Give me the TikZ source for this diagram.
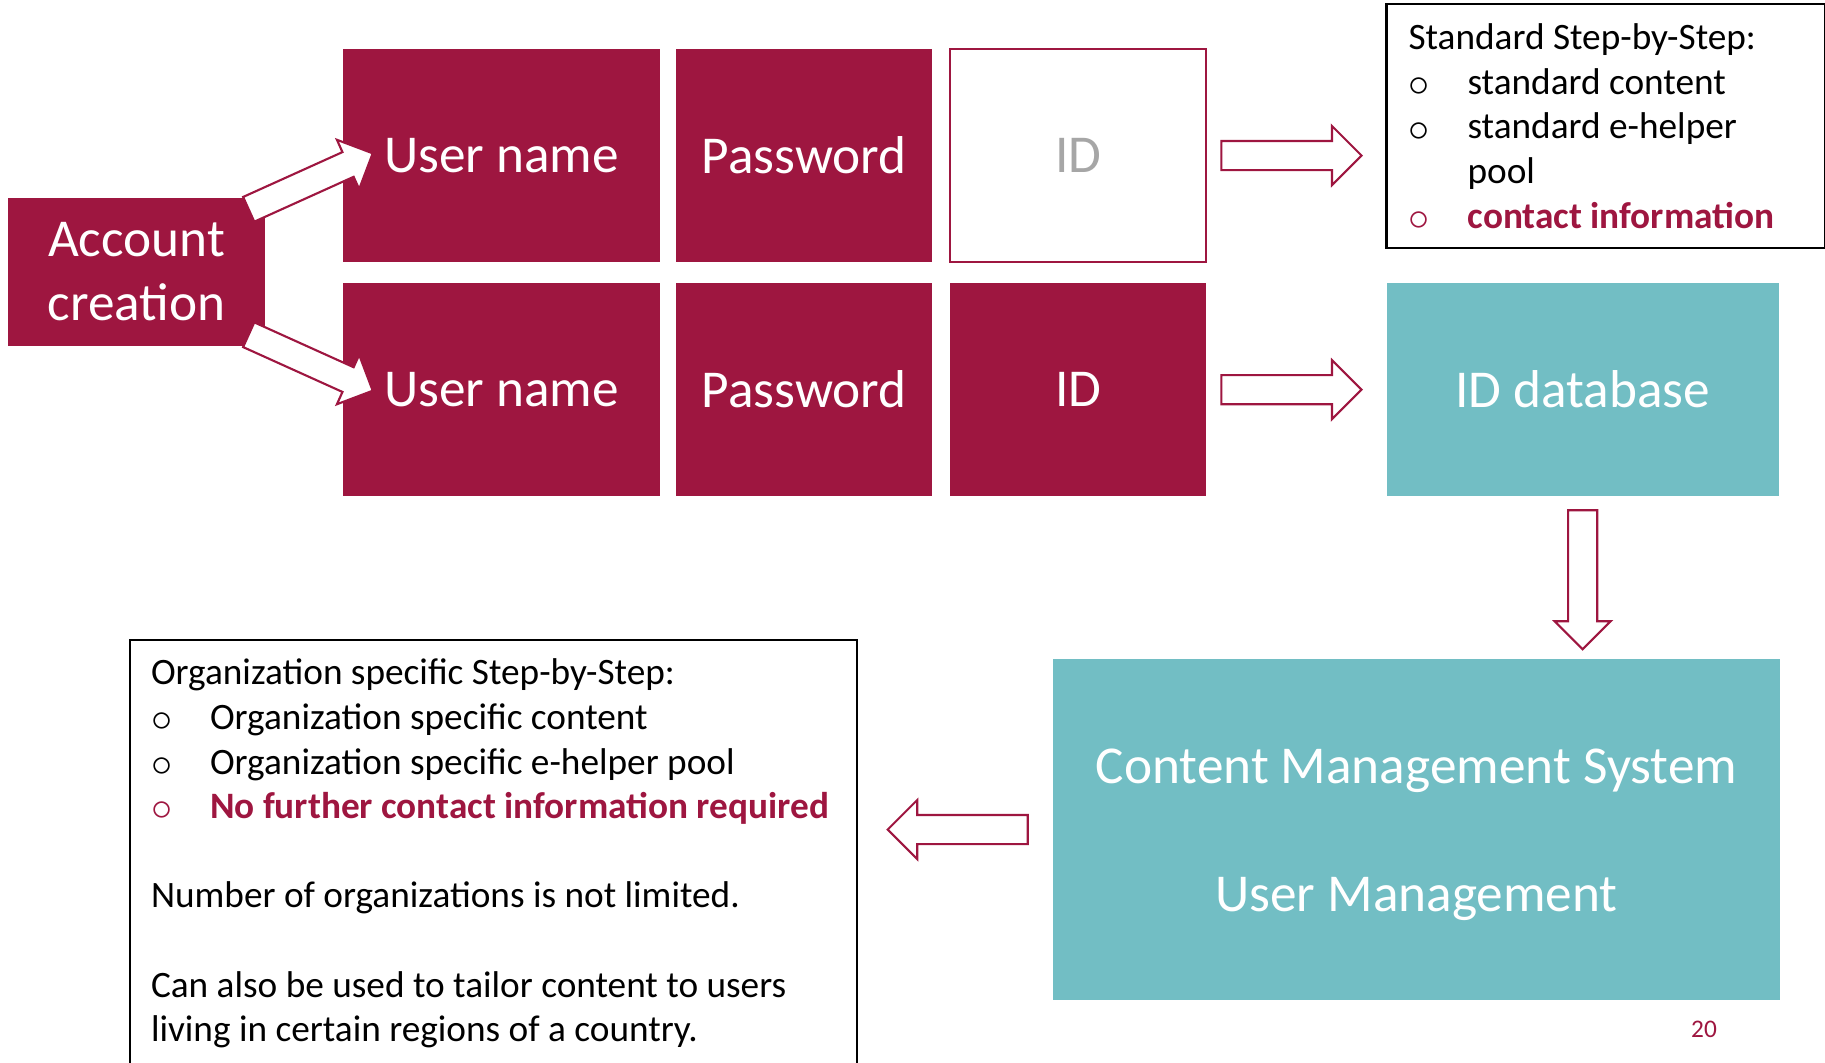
\documentclass[tikz,border=0pt]{standalone}
\usepackage{fontspec}
\setmainfont{Carlito}
\usetikzlibrary{positioning,shapes.arrows}
\definecolor{wine}{RGB}{158,22,64}
\definecolor{lagoon}{RGB}{114,190,196}
\definecolor{idgray}{RGB}{166,166,166}
\newcommand{\bigfont}{\fontsize{15.15}{18.2}\selectfont}
\newcommand{\listfont}{\fontsize{10.6}{12.68}\selectfont}
\newcommand{\bl}[1]{\makebox[0.59cm][l]{\raisebox{-0.6pt}{\fontsize{12}{12}\selectfont$\circ$}}#1}

\begin{document}
\begin{tikzpicture}[
    x=0.01cm, y=-0.01cm,
    every node/.style={inner sep=0pt, outer sep=0pt},
    cell/.style={fill=wine, text=white, minimum height=2.13cm, font=\bigfont, align=center},
    idcell/.style={draw=wine, line width=0.6pt, fill=white, text=idgray, minimum height=2.13cm, font=\bigfont},
    dbbox/.style={fill=lagoon, text=white, font=\bigfont, align=center},
    notebox/.style={draw=black, line width=0.6pt},
    notetext/.style={font=\listfont, align=left, anchor=north west},
    blockarrow/.style={single arrow, draw=wine, fill=white, line width=0.6pt, anchor=tail,
      single arrow head extend=0.15cm, text height=0.27cm, text depth=0pt, minimum height=1.4cm},
    diagarrow/.style={blockarrow, single arrow head extend=0.135cm, text height=0.25cm, minimum height=1.36cm},
  ]
    \useasboundingbox (0,0) rectangle (1825,1062);

    \node[cell, minimum width=2.57cm, minimum height=1.48cm] (acct) at (136.5,272) {\rule{0pt}{0.33cm}Account\\creation};

    % first row: no ID
    \node[cell, minimum width=3.17cm] (user1) at (501.5,155.5) {User name};
    \node[cell, minimum width=2.56cm, right=0.16cm of user1] (pass1) {Password};
    \node[idcell, minimum width=2.56cm, right=0.18cm of pass1] (id1) {ID};

    % second row: with ID
    \node[cell, minimum width=3.17cm, below=0.21cm of user1] (user2) {User name};
    \node[cell, minimum width=2.56cm, right=0.16cm of user2] (pass2) {Password};
    \node[cell, minimum width=2.56cm, right=0.18cm of pass2] (id2) {ID};

    \node[dbbox, minimum width=3.92cm, minimum height=2.13cm, right=1.8cm of id2] (iddb) {ID database};
    \node[notebox, minimum width=4.38cm, minimum height=2.44cm, anchor=south west] (stdbox) at ([yshift=0.35cm]iddb.north west) {};
    \node[notetext] (stdtext) at ([shift={(22,20)}]stdbox.north west) {Standard Step-by-Step:\\
      \bl{standard content}\\
      \bl{standard e-helper}\\
      \hspace*{0.59cm}pool\\
      {\color{wine}\bl{\textbf{contact information}}}};

    \node[dbbox, minimum width=7.27cm, minimum height=3.41cm] (cms) at (1416.5,829.5) {\rule{0pt}{0.45cm}Content Management System\\[18.2pt]User Management};

    \node[notebox, minimum width=7.27cm, minimum height=4.4cm, anchor=north west] (orgbox) at (130,640) {};
    \node[notetext] (orgtext) at ([shift={(21,19)}]orgbox.north west) {Organization specific Step-by-Step:\\
      \bl{Organization specific content}\\
      \bl{Organization specific e-helper pool}\\
      {\color{wine}\bl{\textbf{No further contact information required}}}\\[12.68pt]
      Number of organizations is not limited.\\[12.68pt]
      Can also be used to tailor content to users\\
      living in certain regions of a country.};

    % block arrows, placed by their tails
    \node[blockarrow] (arrA) at ([xshift=0.15cm]id1.east) {};
    \node[blockarrow] (arrB) at ([xshift=0.15cm]id2.east) {};
    \node[blockarrow, rotate=-90, minimum height=1.39cm, single arrow head extend=0.135cm] (arrC) at ([yshift=-0.14cm]iddb.south) {};
    \node[blockarrow, rotate=180] (arrD) at ([xshift=-0.25cm]cms.west) {};
    \node[diagarrow, rotate=24.3] (arrUp) at ([shift={(112.2,-62.7)}]acct.center) {};
    \node[diagarrow, rotate=-24.3] (arrDown) at ([shift={(112.2,62.7)}]acct.center) {};

    \node[text=wine, font=\fontsize{7.2}{8}\selectfont] (pagenum) at (1704,1029) {20};
\end{tikzpicture}
\end{document}
